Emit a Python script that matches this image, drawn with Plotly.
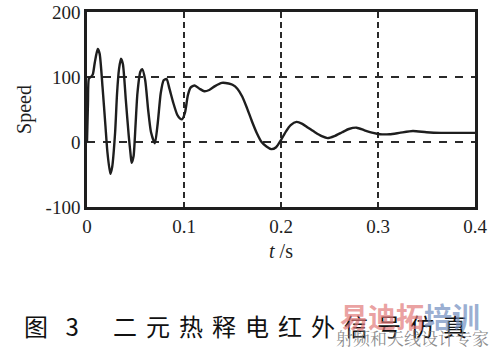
import plotly.graph_objects as go

# ---- data ----
t_s = [0.000, 0.001, 0.002, 0.004, 0.006, 0.008, 0.011, 0.013, 0.016, 0.019,
       0.021, 0.024, 0.026, 0.029, 0.031, 0.033, 0.035, 0.037, 0.040, 0.043,
       0.045, 0.046, 0.048, 0.050, 0.052, 0.055, 0.057, 0.060, 0.063, 0.066,
       0.070, 0.073, 0.076, 0.079, 0.082, 0.085, 0.089, 0.093, 0.096, 0.098,
       0.101, 0.104, 0.107, 0.111, 0.116, 0.121, 0.126, 0.132, 0.139, 0.146,
       0.150, 0.155, 0.160, 0.165, 0.170, 0.175, 0.180, 0.185, 0.190, 0.195,
       0.200, 0.205, 0.210, 0.216, 0.222, 0.228, 0.235, 0.242, 0.248, 0.255,
       0.263, 0.270, 0.278, 0.286, 0.295, 0.302, 0.312, 0.322, 0.336, 0.350,
       0.365, 0.380, 0.400]
speed = [0, 60, 98, 100, 104, 122, 143, 136, 85, 25,
         -15, -49, -38, 15, 75, 112, 128, 120, 65, 10,
         -20, -32, -22, 25, 75, 108, 112, 95, 50, 15,
         -2, 30, 75, 95, 97, 82, 60, 42, 36, 35,
         45, 72, 84, 87, 82, 78, 80, 86, 91, 90,
         88, 82, 70, 52, 32, 14, 0, -7, -11, -8,
         3, 16, 26, 31, 28, 22, 15, 9, 6, 9,
         15, 20, 22, 18, 14, 12, 12, 14, 17, 15,
         14, 14, 14]

x_ticks = [0, 0.1, 0.2, 0.3, 0.4]
x_tick_labels = ["0", "0.1", "0.2", "0.3", "0.4"]
y_ticks = [-100, 0, 100, 200]
y_tick_labels = ["-100", "0", "100", "200"]

x_title = "<i>t</i> /s"
y_title = "Speed"
caption_label = "图\u2002 3"
caption_chars = list("二元热释电红外信号仿真")
wm_big_red = "易迪拓"
wm_big_blue = "培训"
wm_small = "射频和天线设计专家"

serif = "Liberation Serif, Times New Roman, serif"
ink = "#1e1e1e"

# plot-area geometry in pixels (for placing the caption text)
L, R, T, B = 87, 475, 12, 207
PW, PH = R - L, B - T


def px_x(px):
    return (px - L) / PW


def px_y(py):
    return (B - py) / PH


fig = go.Figure()
fig.add_trace(go.Scatter(
    x=t_s, y=speed, mode="lines",
    line=dict(color=ink, width=2.4, shape="spline", smoothing=0.6),
    showlegend=False, hoverinfo="skip",
))

fig.update_layout(
    width=492, height=355,
    margin=dict(l=L, r=492 - R, t=T, b=355 - B, autoexpand=False),
    paper_bgcolor="white", plot_bgcolor="white",
    font=dict(family=serif, size=19, color=ink),
    xaxis=dict(
        range=[0, 0.4], tickvals=x_ticks, ticktext=x_tick_labels,
        showgrid=True, gridcolor="#2a2a2a", gridwidth=2, griddash="6px,4px",
        zeroline=False, showline=True, linecolor=ink, linewidth=2.5, mirror=True,
        ticks="", title=dict(text=x_title, font=dict(family=serif, size=20), standoff=9),
        tickfont=dict(family=serif, size=19, color=ink),
    ),
    yaxis=dict(
        range=[-100, 200], tickvals=y_ticks, ticktext=y_tick_labels,
        showgrid=True, gridcolor="#2a2a2a", gridwidth=2, griddash="8px,8px",
        zeroline=False, showline=True, linecolor=ink, linewidth=2.5, mirror=True,
        ticks="", title=dict(text=y_title, font=dict(family=serif, size=20), standoff=9),
        tickfont=dict(family=serif, size=19, color=ink),
    ),
)

cap_font = dict(family="Noto Sans CJK SC", size=24, color="#111")
cap_y = px_y(325)
# caption label "图 3"
fig.add_annotation(
    text=caption_label, xref="paper", yref="paper", x=px_x(22), y=cap_y,
    xanchor="left", yanchor="middle", showarrow=False, font=cap_font,
)
# caption title, one glyph per 33 px as in the original typesetting
for i, ch in enumerate(caption_chars):
    fig.add_annotation(
        text=ch, xref="paper", yref="paper", x=px_x(125 + 33 * i), y=cap_y,
        xanchor="center", yanchor="middle", showarrow=False, font=cap_font,
    )

# watermark
fig.add_annotation(
    text=f"<b><span style='color:rgba(225,120,120,0.7)'>{wm_big_red}</span>"
         f"<span style='color:rgba(110,140,190,0.7)'>{wm_big_blue}</span></b>",
    xref="paper", yref="paper", x=px_x(338), y=px_y(316),
    xanchor="left", yanchor="middle", showarrow=False,
    font=dict(family="Noto Sans CJK SC", size=28),
)
fig.add_annotation(
    text=wm_small, xref="paper", yref="paper", x=px_x(491), y=px_y(338),
    xanchor="right", yanchor="middle", showarrow=False,
    font=dict(family="Noto Serif CJK SC, Noto Sans CJK SC", size=17,
              color="rgba(120,120,120,0.85)"),
)

fig.write_html("out.html")
